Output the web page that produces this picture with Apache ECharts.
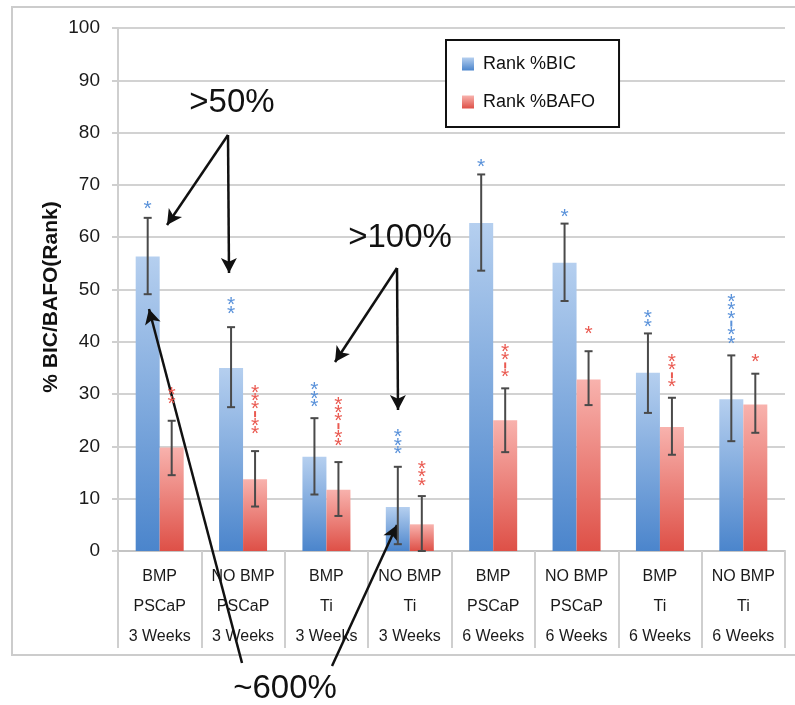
<!DOCTYPE html>
<html>
<head>
<meta charset="utf-8">
<script src="https://cdn.jsdelivr.net/npm/echarts@6/dist/echarts.min.js"></script>
<style>html,body{margin:0;padding:0;background:#fff;}#chart{width:795px;height:705px;}</style>
</head>
<body>
<div id="chart"></div>
<script>
// ---- data ----
const treatment = ['BMP', 'NO BMP', 'BMP', 'NO BMP', 'BMP', 'NO BMP', 'BMP', 'NO BMP'];
const material  = ['PSCaP', 'PSCaP', 'Ti', 'Ti', 'PSCaP', 'PSCaP', 'Ti', 'Ti'];
const duration  = ['3 Weeks', '3 Weeks', '3 Weeks', '3 Weeks', '6 Weeks', '6 Weeks', '6 Weeks', '6 Weeks'];

const bicValues   = [56.3, 35.0, 18.0, 8.4, 62.7, 55.1, 34.1, 29.0];
const bafoValues  = [19.8, 13.7, 11.7, 5.1, 25.0, 32.8, 23.7, 28.0];
const bicErrLow   = [49.1, 27.5, 10.8, 1.3, 53.6, 47.8, 26.4, 21.0];
const bicErrHigh  = [63.7, 42.8, 25.4, 16.1, 72.0, 62.6, 41.6, 37.4];
const bafoErrLow  = [14.5, 8.5, 6.7, 0.0, 18.9, 27.9, 18.4, 22.6];
const bafoErrHigh = [24.9, 19.1, 17.0, 10.5, 31.1, 38.2, 29.3, 33.9];

const bicSig    = ['*', '**', '***', '***', '*', '*', '**', '***-**'];
const bafoSig   = ['**', '***-**', '***-**', '***', '**-*', '*', '**-*', '*'];
const bicSigAt  = [66.1, 46.0, 28.2, 19.2, 74.1, 64.5, 43.5, 40.3];
const bafoSigAt = [28.8, 23.0, 20.7, 13.1, 33.9, 42.2, 32.0, 36.8];

const yTicks = [0, 10, 20, 30, 40, 50, 60, 70, 80, 90, 100];
const seriesNames = ['Rank %BIC', 'Rank %BAFO'];

// ---- styling ----
const FONT = 'Liberation Sans, Arial, Helvetica, sans-serif';
const BAR_W = 24;
const blueGrad = new echarts.graphic.LinearGradient(0, 0, 0, 1, [
  { offset: 0, color: '#b5cfef' }, { offset: 1, color: '#4b85cc' }]);
const redGrad = new echarts.graphic.LinearGradient(0, 0, 0, 1, [
  { offset: 0, color: '#f8b2ad' }, { offset: 1, color: '#de5047' }]);
const BLUE_STAR = '#5a92da';
const RED_STAR = '#ea5a51';

const categories = treatment.map((t, i) => t + '\n' + material[i] + '\n' + duration[i]);

function errSeries(low, high, shift) {
  return {
    type: 'custom',
    z: 5,
    silent: true,
    data: low.map((l, i) => [i, l, high[i]]),
    encode: { x: 0, y: [1, 2] },
    renderItem: function (params, api) {
      const p1 = api.coord([api.value(0), api.value(1)]);
      const p2 = api.coord([api.value(0), api.value(2)]);
      const x = p1[0] + shift;
      const style = { stroke: '#4a4a4a', lineWidth: 2 };
      return {
        type: 'group',
        children: [
          { type: 'line', shape: { x1: x, y1: p1[1], x2: x, y2: p2[1] }, style: style },
          { type: 'line', shape: { x1: x - 4, y1: p1[1], x2: x + 4, y2: p1[1] }, style: style },
          { type: 'line', shape: { x1: x - 4, y1: p2[1], x2: x + 4, y2: p2[1] }, style: style }
        ]
      };
    }
  };
}

function sigSeries(at, sig, shift, color) {
  return {
    type: 'custom',
    z: 6,
    silent: true,
    data: at.map((v, i) => [i, v]),
    encode: { x: 0, y: 1 },
    renderItem: function (params, api) {
      const idx = api.value(0);
      const p = api.coord([idx, api.value(1)]);
      const x = p[0] + shift;
      const s = sig[idx];
      const n = s.length;
      const pitch = 8.3;
      const children = [];
      for (let k = 0; k < n; k++) {
        const cy = p[1] - (n - 1 - k) * pitch;
        if (s[k] === '-') {
          children.push({ type: 'rect', shape: { x: x - 1, y: cy - 3, width: 2, height: 6 }, style: { fill: color } });
        } else {
          children.push({ type: 'text', x: x, y: cy + 3.5,
            style: { text: '*', fill: color, font: '21px ' + FONT, align: 'center', verticalAlign: 'middle' } });
        }
      }
      return { type: 'group', children: children };
    }
  };
}

const arrows = [
  [{ x: 228, y: 135 }, { x: 167, y: 225 }],
  [{ x: 228, y: 135 }, { x: 229, y: 273 }],
  [{ x: 397, y: 268 }, { x: 335, y: 362 }],
  [{ x: 397, y: 268 }, { x: 398, y: 410 }],
  [{ x: 242, y: 663 }, { x: 149, y: 309 }],
  [{ x: 332, y: 666 }, { x: 397, y: 525 }]
];

const chart = echarts.init(document.getElementById('chart'), null, { renderer: 'canvas' });
chart.setOption({
  animation: false,
  backgroundColor: '#fff',
  textStyle: { fontFamily: FONT },
  grid: { left: 118, right: 10, top: 28, bottom: 154, containLabel: false },
  legend: {
    data: seriesNames.map(n => ({ name: n, icon: 'rect' })),
    orient: 'vertical',
    left: 446, top: 40,
    padding: [14, 24, 15, 16],
    itemGap: 18,
    itemWidth: 12, itemHeight: 13,
    borderColor: '#111', borderWidth: 2,
    backgroundColor: '#fff',
    textStyle: { fontSize: 18, color: '#111', fontFamily: FONT, lineHeight: 20, padding: [0, 0, 0, 4] },
    selectedMode: false
  },
  xAxis: {
    type: 'category',
    data: categories,
    axisLine: { show: true, lineStyle: { color: '#c4c4c4', width: 2 } },
    axisTick: { show: true, interval: 0, length: 97, lineStyle: { color: '#cfcfcf', width: 2 } },
    axisLabel: { interval: 0, margin: 11, fontSize: 16, lineHeight: 30, color: '#1a1a1a', fontFamily: FONT }
  },
  yAxis: {
    type: 'value',
    min: 0, max: 100, interval: 10,
    axisLine: { show: true, lineStyle: { color: '#cfcfcf', width: 2 } },
    axisTick: { show: true, length: 6, lineStyle: { color: '#cfcfcf', width: 2 } },
    axisLabel: { margin: 18, fontSize: 19, color: '#1a1a1a', fontFamily: FONT,
      formatter: v => (yTicks.indexOf(v) >= 0 ? String(v) : '') },
    splitLine: { show: true, lineStyle: { color: '#d2d2d2', width: 2 } }
  },
  series: [
    { name: seriesNames[0], type: 'bar', data: bicValues, barWidth: BAR_W, barGap: '0%',
      itemStyle: { color: blueGrad }, z: 3 },
    { name: seriesNames[1], type: 'bar', data: bafoValues, barWidth: BAR_W, barGap: '0%',
      itemStyle: { color: redGrad }, z: 3 },
    errSeries(bicErrLow, bicErrHigh, -BAR_W / 2),
    errSeries(bafoErrLow, bafoErrHigh, BAR_W / 2),
    sigSeries(bicSigAt, bicSig, -BAR_W / 2, BLUE_STAR),
    sigSeries(bafoSigAt, bafoSig, BAR_W / 2, RED_STAR),
    {
      type: 'line', data: [], z: 20, silent: true,
      markLine: {
        silent: true,
        symbol: ['none', 'arrow'],
        symbolSize: [12, 15],
        label: { show: false },
        lineStyle: { color: '#111', width: 2.5, type: 'solid' },
        emphasis: { disabled: true },
        data: arrows
      }
    }
  ],
  graphic: [
    { type: 'rect', z: -10, silent: true, shape: { x: 12, y: 7, width: 790, height: 648 },
      style: { fill: 'none', stroke: '#cccccc', lineWidth: 2 } },
    { type: 'text', x: 51, y: 297, rotation: Math.PI / 2, z: 10,
      style: { text: '% BIC/BAFO(Rank)', fill: '#111', font: 'bold 21px ' + FONT, align: 'center', verticalAlign: 'middle' } },
    { type: 'text', x: 232, y: 103, z: 10,
      style: { text: '>50%', fill: '#111', font: '33px ' + FONT, align: 'center', verticalAlign: 'middle' } },
    { type: 'text', x: 400, y: 238, z: 10,
      style: { text: '>100%', fill: '#111', font: '33px ' + FONT, align: 'center', verticalAlign: 'middle' } },
    { type: 'text', x: 285, y: 689, z: 10,
      style: { text: '~600%', fill: '#111', font: '33px ' + FONT, align: 'center', verticalAlign: 'middle' } }
  ]
});
</script>
</body>
</html>
